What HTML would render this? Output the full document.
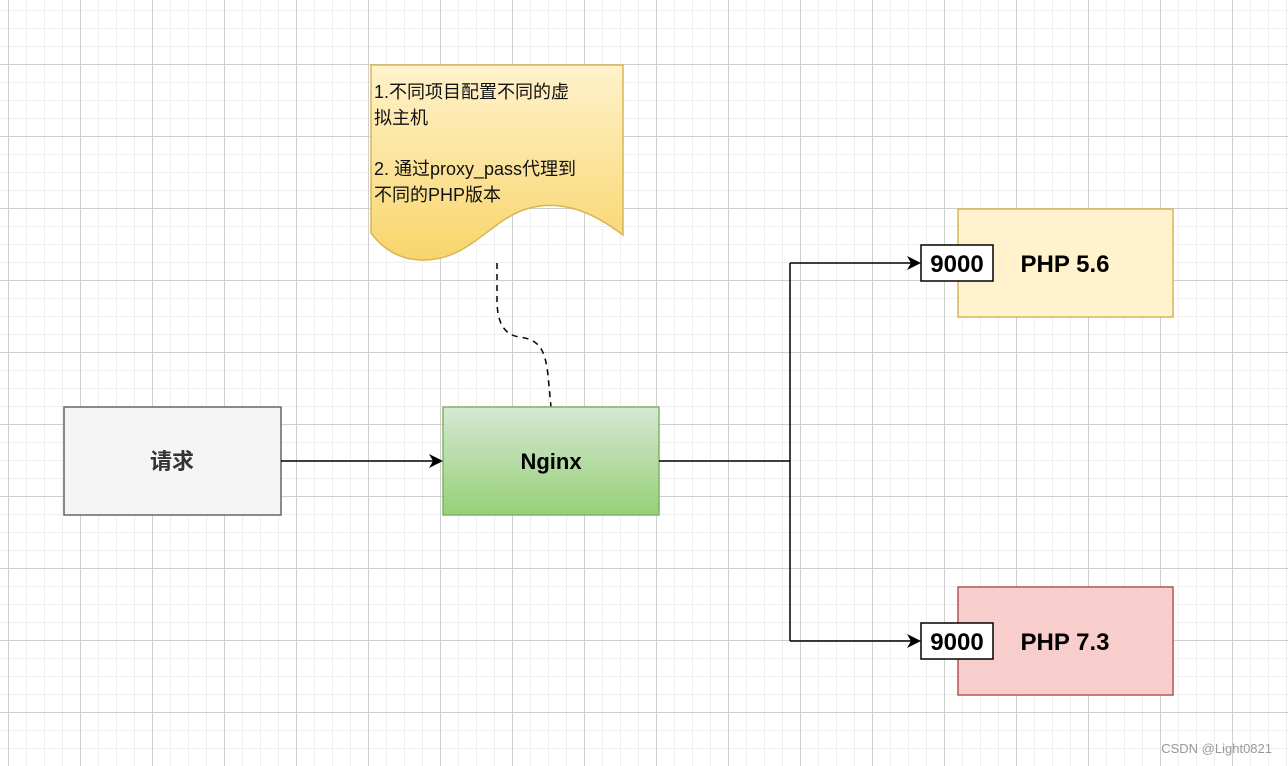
<!DOCTYPE html>
<html><head><meta charset="utf-8"><style>
body{margin:0;width:1288px;height:766px;overflow:hidden;background:#fff;
background-image:linear-gradient(#cfcfcf 1px,transparent 1px),linear-gradient(90deg,#cfcfcf 1px,transparent 1px),linear-gradient(#efefef 1px,transparent 1px),linear-gradient(90deg,#efefef 1px,transparent 1px);
background-size:72px 72px,72px 72px,18px 18px,18px 18px;background-position:8px 64px,8px 64px,8px 10px,8px 10px;
font-family:"Liberation Sans","Noto Sans CJK SC",sans-serif;}
svg{position:absolute;left:0;top:0}
</style></head><body>
<svg width="1288" height="766" viewBox="0 0 1288 766">
<defs>
<linearGradient id="g1" x1="0" y1="0" x2="0" y2="1"><stop offset="0" stop-color="#d5e8d4"/><stop offset="1" stop-color="#97d077"/></linearGradient>
<linearGradient id="g2" x1="0" y1="0" x2="0" y2="1"><stop offset="0" stop-color="#fff2cc"/><stop offset="1" stop-color="#f8d56b"/></linearGradient>
</defs>
<path d="M371 65 H623 V235 C590 210 560 200 530 208 C490 218 470 262 420 260 C395 259 380 245 371 233 Z" fill="url(#g2)" stroke="#d6b656" stroke-width="1.5"/>
<text font-size="18" fill="#111"><tspan x="374" y="98">1.不同项目配置不同的虚</tspan><tspan x="374" y="124">拟主机</tspan><tspan x="374" y="175">2. 通过proxy_pass代理到</tspan><tspan x="374" y="201">不同的PHP版本</tspan></text>
<path d="M497 263 V300 C497 330 510 336 520 337 C540 340 545 350 548 375 L551 407" fill="none" stroke="#000" stroke-width="1.5" stroke-dasharray="6 5"/>
<rect x="64" y="407" width="217" height="108" fill="#f5f5f5" stroke="#666" stroke-width="1.5"/>
<text x="172" y="469" font-size="22" font-weight="bold" text-anchor="middle" fill="#333">请求</text>
<rect x="443" y="407" width="216" height="108" fill="url(#g1)" stroke="#82b366" stroke-width="1.5"/>
<text x="551" y="469" font-size="22" font-weight="bold" text-anchor="middle">Nginx</text>
<rect x="958" y="209" width="215" height="108" fill="#fff2cc" stroke="#d6b656" stroke-width="1.5"/>
<rect x="958" y="587" width="215" height="108" fill="#f8cecc" stroke="#b85450" stroke-width="1.5"/>
<g stroke="#000" stroke-width="1.5" fill="none">
<path d="M281 461 H433"/><path d="M659 461 H790 M790 263 V641 M790 263 H911 M790 641 H911"/>
</g>
<g fill="#000"><path d="M443 461 L429 454 L433 461 L429 468Z"/><path d="M921 263 L907 256 L911 263 L907 270Z"/><path d="M921 641 L907 634 L911 641 L907 648Z"/></g>
<rect x="921" y="245" width="72" height="36" fill="#fff" stroke="#000" stroke-width="1.5"/>
<rect x="921" y="623" width="72" height="36" fill="#fff" stroke="#000" stroke-width="1.5"/>
<g font-size="24" font-weight="bold" text-anchor="middle">
<text x="957" y="272">9000</text><text x="957" y="650">9000</text>
<text x="1065" y="272">PHP 5.6</text><text x="1065" y="650">PHP 7.3</text>
</g>
<text x="1272" y="753" font-size="13" text-anchor="end" fill="#999">CSDN @Light0821</text>
</svg>
</body></html>
